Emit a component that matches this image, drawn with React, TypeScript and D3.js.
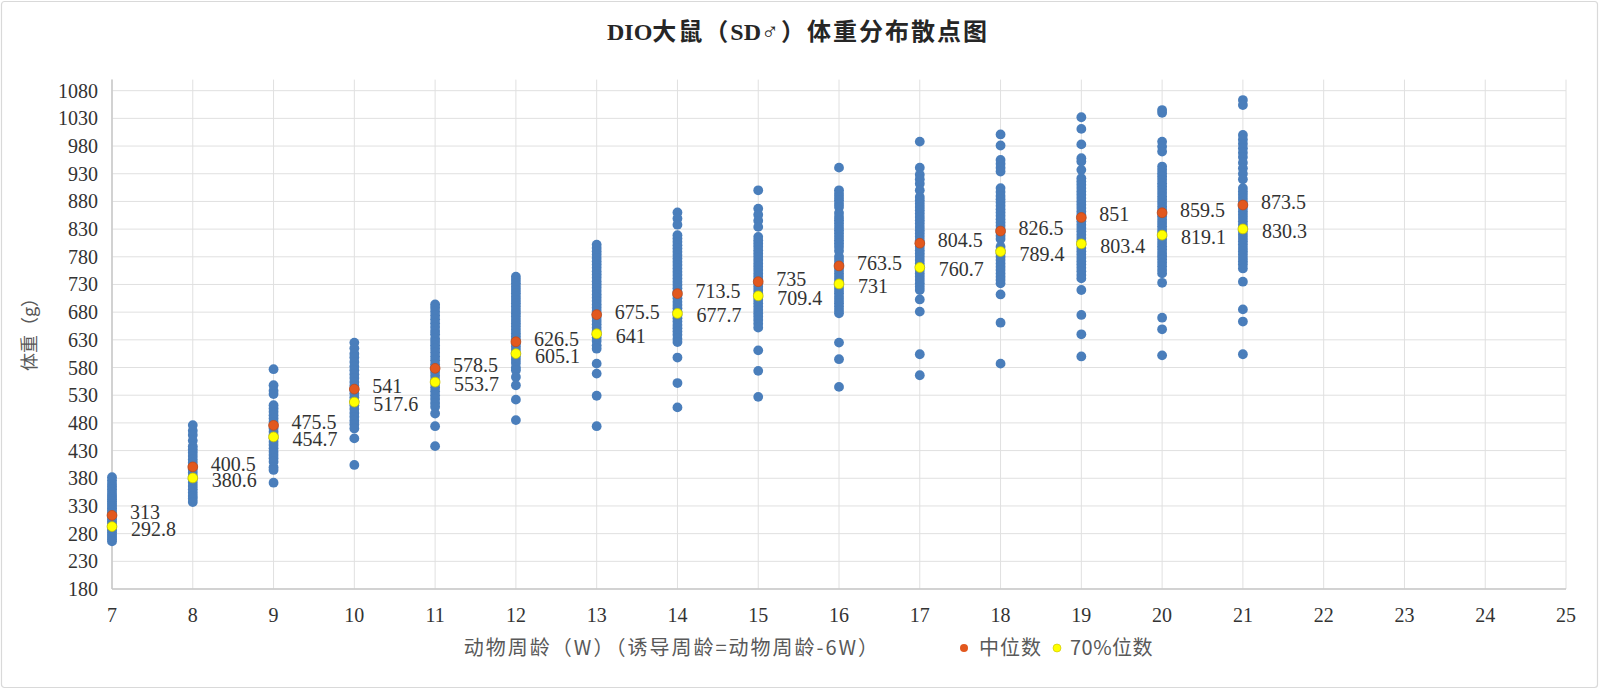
import React from 'react';
import * as d3 from 'd3';

// weeks (animal age, W) shown on the x axis
const weeks = [7, 8, 9, 10, 11, 12, 13, 14, 15, 16, 17, 18, 19, 20, 21];
const xTicks = [7, 8, 9, 10, 11, 12, 13, 14, 15, 16, 17, 18, 19, 20, 21, 22, 23, 24, 25];
const yTicks = [180, 230, 280, 330, 380, 430, 480, 530, 580, 630, 680, 730, 780, 830, 880, 930, 980, 1030, 1080];

// body weights (g) read per week
const w7 = [382, 376, 370, 365, 360, 355, 350, 346, 342, 338, 334, 330, 326, 322, 318, 314, 310, 306, 302, 298, 294, 290, 286, 282, 278, 274, 270, 266];
const w8 = [476, 466, 458, 448, 438, 432, 426, 420, 414, 408, 402, 396, 390, 384, 378, 372, 366, 360, 354, 348, 343, 337];
const w9 = [577, 548, 538, 532, 512, 506, 500, 494, 488, 482, 476, 470, 464, 458, 452, 446, 440, 434, 428, 422, 416, 410, 400, 395, 372];
const w10 = [625, 615, 605, 598, 590, 582, 575, 568, 561, 554, 547, 540, 533, 526, 519, 512, 505, 498, 491, 484, 477, 470, 452, 404];
const w11 = [694, 688, 681, 674, 667, 660, 653, 646, 640, 632, 626, 620, 614, 607, 600, 593, 586, 579, 572, 565, 558, 551, 544, 537, 530, 523, 516, 509, 497, 474, 438];
const w12 = [744, 738, 732, 726, 720, 714, 708, 702, 696, 690, 684, 678, 672, 666, 660, 654, 648, 642, 636, 630, 624, 618, 612, 606, 600, 594, 588, 580, 575, 563, 548, 522, 485];
const w13 = [802, 796, 790, 784, 778, 772, 766, 760, 754, 748, 742, 736, 730, 724, 718, 712, 706, 700, 694, 688, 682, 676, 670, 664, 658, 652, 646, 640, 634, 628, 620, 614, 587, 569, 529, 474];
const w14 = [860, 849, 838, 819, 813, 807, 801, 795, 789, 783, 777, 771, 765, 759, 753, 747, 741, 735, 729, 723, 717, 711, 705, 699, 693, 687, 681, 675, 669, 663, 657, 651, 645, 639, 632, 626, 598, 552, 508];
const w15 = [900, 867, 856, 845, 834, 816, 810, 804, 798, 792, 786, 780, 774, 768, 762, 756, 750, 744, 738, 732, 726, 720, 714, 708, 702, 696, 690, 684, 678, 672, 666, 659, 652, 611, 574, 527];
const w16 = [941, 900, 894, 888, 882, 876, 870, 859, 852, 846, 840, 834, 828, 822, 816, 810, 804, 798, 791, 780, 774, 768, 762, 756, 750, 744, 738, 732, 726, 720, 714, 708, 702, 696, 690, 684, 678, 625, 595, 545];
const w17 = [988, 941, 928, 920, 912, 900, 888, 882, 876, 870, 864, 858, 852, 846, 840, 834, 828, 822, 816, 810, 804, 798, 792, 786, 780, 774, 768, 762, 756, 750, 744, 738, 732, 726, 720, 703, 681, 604, 566];
const w18 = [1001, 981, 955, 948, 941, 934, 904, 897, 890, 884, 878, 872, 866, 860, 854, 848, 842, 836, 830, 824, 818, 812, 798, 792, 786, 780, 774, 768, 762, 756, 750, 744, 738, 732, 712, 661, 587];
const w19 = [1032, 1011, 983, 958, 952, 937, 922, 916, 910, 904, 898, 892, 886, 880, 874, 868, 862, 856, 850, 844, 838, 832, 826, 820, 814, 808, 802, 796, 790, 784, 778, 772, 766, 760, 754, 747, 741, 720, 675, 640, 600];
const w20 = [1045, 1040, 988, 979, 970, 943, 937, 931, 925, 919, 913, 907, 901, 895, 889, 883, 877, 871, 865, 859, 853, 847, 841, 835, 829, 823, 817, 811, 805, 799, 793, 787, 781, 775, 769, 763, 756, 750, 733, 670, 649, 602];
const w21 = [1063, 1054, 1000, 992, 984, 976, 968, 960, 950, 940, 930, 920, 904, 898, 892, 886, 880, 874, 868, 862, 856, 850, 844, 838, 832, 826, 820, 814, 808, 802, 796, 790, 784, 778, 772, 766, 759, 735, 685, 663, 604];
const weights = [w7, w8, w9, w10, w11, w12, w13, w14, w15, w16, w17, w18, w19, w20, w21];

// median and 70% percentile per week
const medians = [313, 400.5, 475.5, 541, 578.5, 626.5, 675.5, 713.5, 735, 763.5, 804.5, 826.5, 851, 859.5, 873.5];
const p70 = [292.8, 380.6, 454.7, 517.6, 553.7, 605.1, 641, 677.7, 709.4, 731, 760.7, 789.4, 803.4, 819.1, 830.3];

const W = 1600;
const H = 690;
const serif = '"Liberation Serif", "Times New Roman", "Noto Sans CJK SC", serif';
const cjk = '"Noto Sans CJK SC", "Liberation Serif", sans-serif';

const BLUE = '#4a7ebb';
const RED = '#e2581e';
const YELLOW = '#ffff00';

const App = () => {
  const x = d3.scaleLinear().domain([7, 25]).range([112, 1566]);
  const y = d3.scaleLinear().domain([180, 1100]).range([589, 79.6]);
  const [x0, x1] = x.range();
  const [yb, yt] = y.range();

  const points = weeks.flatMap((wk, i) => weights[i].map(v => ({ wk, v })));

  return (
    <svg width={W} height={H} style={{ position: 'absolute', left: 0, top: 0, background: '#fff' }}>
      <rect x={1.5} y={1.5} width={W - 4} height={H - 4} fill="#fff" stroke="#d9d9d9" strokeWidth={1.2} rx={3} />

      <text x={798} y={40} textAnchor="middle" fontFamily={serif} fontWeight="bold" fontSize={24} fill="#262626">
        <tspan>DIO</tspan>
        <tspan letterSpacing={2}>大鼠（</tspan>
        <tspan>SD</tspan>
        <tspan letterSpacing={2}>♂）体重分布散点图</tspan>
      </text>

      {/* grid */}
      {yTicks.map(t => (
        <line key={'h' + t} x1={x0} x2={x1} y1={y(t)} y2={y(t)} stroke="#e0e0e0" strokeWidth={1} />
      ))}
      {xTicks.map(t => (
        <line key={'v' + t} x1={x(t)} x2={x(t)} y1={yt} y2={yb} stroke="#e0e0e0" strokeWidth={1} />
      ))}
      <line x1={x0} x2={x0} y1={yt} y2={yb} stroke="#c8c8c8" strokeWidth={1.5} />
      <line x1={x0} x2={x1} y1={yb} y2={yb} stroke="#c8c8c8" strokeWidth={1.5} />

      {/* ticks */}
      {yTicks.map(t => (
        <text key={'yl' + t} x={98} y={y(t)} dy="0.35em" textAnchor="end" fontFamily={serif} fontSize={20} fill="#333">
          {t}
        </text>
      ))}
      {xTicks.map(t => (
        <text key={'xl' + t} x={x(t)} y={615} dy="0.35em" textAnchor="middle" fontFamily={serif} fontSize={20} fill="#333">
          {t}
        </text>
      ))}

      <text transform={`translate(36,330) rotate(-90)`} textAnchor="middle" fontFamily={cjk} fontSize={18} fill="#595959">
        体重（g）
      </text>
      <text x={672} y={648} dy="0.35em" textAnchor="middle" fontFamily={cjk} fontSize={20} letterSpacing={2} fill="#595959">
        动物周龄（W）（诱导周龄=动物周龄-6W）
      </text>

      {/* points */}
      {points.map((p, i) => (
        <circle key={'p' + i} cx={x(p.wk)} cy={y(p.v)} r={4.9} fill={BLUE} />
      ))}
      {weeks.map((wk, i) => (
        <g key={'m' + wk}>
          <circle cx={x(wk)} cy={y(medians[i])} r={4.9} fill={RED} stroke="#c04a18" strokeWidth={0.8} />
          <circle cx={x(wk)} cy={y(p70[i])} r={4.9} fill={YELLOW} stroke="#c8c000" strokeWidth={0.8} />
          <text x={x(wk) + 18} y={y(medians[i]) - 3} dy="0.35em" fontFamily={serif} fontSize={20} fill="#333">
            {medians[i]}
          </text>
          <text x={x(wk) + 19} y={y(p70[i]) + 2} dy="0.35em" fontFamily={serif} fontSize={20} fill="#333">
            {p70[i]}
          </text>
        </g>
      ))}

      {/* legend */}
      <circle cx={964} cy={648} r={4} fill={RED} />
      <text x={979} y={648} dy="0.35em" fontFamily={cjk} fontSize={20} letterSpacing={1} fill="#595959">中位数</text>
      <circle cx={1057} cy={648} r={4} fill={YELLOW} stroke="#c8c000" strokeWidth={0.6} />
      <text x={1070} y={648} dy="0.35em" fontFamily={cjk} fontSize={20} letterSpacing={0.5} fill="#595959">70%位数</text>
    </svg>
  );
};

export default App;
